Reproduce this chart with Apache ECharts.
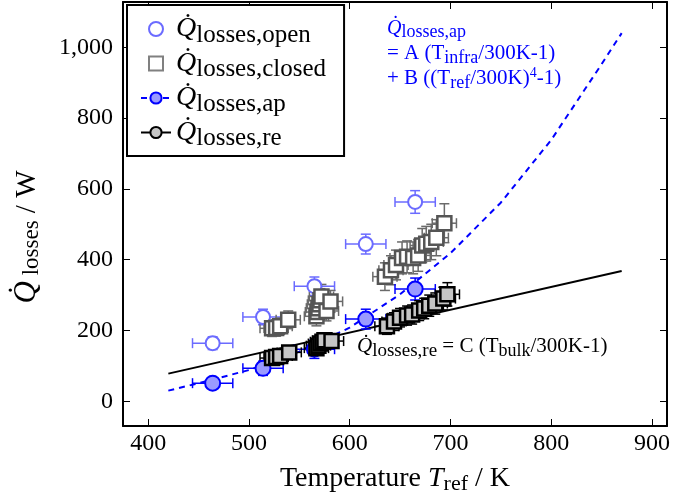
<!DOCTYPE html>
<html><head><meta charset="utf-8">
<script src="https://cdn.jsdelivr.net/npm/echarts@6/dist/echarts.min.js"></script>
<style>html,body{margin:0;padding:0;background:#fff}#c{width:699px;height:495px}</style>
</head><body><div id="c"></div>
<script>
// ---- data ----
const xTicks = [400, 500, 600, 700, 800, 900];
const yTicks = [0, 200, 400, 600, 800, 1000];

const openT    = [464, 514, 565, 616, 665];
const openQ    = [164, 238, 325, 444, 563];
const openTerr = [20, 20, 20, 20, 20];
const openQerr = [18, 22, 26, 28, 32];

const apT    = [464, 514, 565, 616, 665];
const apQ    = [51, 93, 147, 232, 317];
const apTerr = [20, 20, 20, 20, 20];
const apQerr = [14, 20, 26, 28, 31];

const closedT    = [523, 527, 531, 539, 567, 568, 569, 570, 571, 572, 577, 581, 635, 641, 646, 652, 657, 663, 668, 672, 676, 681, 686, 694];
const closedQ    = [206, 207, 212, 230, 240, 252, 263, 274, 285, 296, 255, 282, 352, 370, 385, 405, 408, 405, 412, 440, 445, 450, 462, 503];
const closedTerr = [12, 12, 12, 12, 12, 12, 12, 12, 12, 12, 12, 12, 12, 12, 12, 12, 12, 12, 12, 12, 12, 12, 12, 12];
const closedQerr = [23, 23, 23, 25, 27, 28, 30, 31, 33, 34, 28, 31, 39, 41, 42, 45, 45, 45, 45, 48, 49, 50, 51, 55];

const reT    = [523, 527, 531, 540, 567, 569, 571, 573, 575, 582, 637, 644, 650, 657, 662, 669, 674, 679, 685, 693, 697];
const reQ    = [122, 125, 128, 138, 150, 157, 163, 168, 172, 170, 212, 225, 236, 242, 245, 256, 262, 270, 276, 290, 302];
const reTerr = [12, 12, 12, 12, 12, 12, 12, 12, 12, 12, 12, 12, 12, 12, 12, 12, 12, 12, 12, 12, 12];
const reQerr = [13, 14, 14, 15, 17, 17, 18, 18, 19, 19, 23, 25, 26, 27, 27, 28, 29, 30, 30, 32, 33];

const apCurveT = [420, 450, 500, 550, 600, 650, 700, 750, 800, 850, 870];
const apCurveQ = [30, 51, 88, 140, 208, 302, 418, 561, 738, 952, 1040];

const reLineT = [420, 870];
const reLineQ = [78, 368];

// ---- styles ----
const FONT = '"Liberation Serif", "DejaVu Serif", serif';
const openColor = '#6b6bff';
const apColor = '#0000ff', apFill = '#9a9aff';
const closedColor = '#555555', closedBar = '#6a6a6a';
const reFill = '#c6c6c6';

const zip = (a, b) => a.map((v, i) => [v, b[i]]);
const zip4 = (a, b, c, d) => a.map((v, i) => [v, b[i], c[i], d[i]]);

function errBars(color, width) {
  return function (params, api) {
    const x = api.value(0), y = api.value(1), ex = api.value(2), ey = api.value(3);
    const l = api.coord([x - ex, y]), r = api.coord([x + ex, y]);
    const t = api.coord([x, y + ey]), b = api.coord([x, y - ey]);
    const cap = 5;
    const st = { stroke: color, lineWidth: width };
    const ln = (x1, y1, x2, y2) => ({ type: 'line', shape: { x1, y1, x2, y2 }, style: st });
    return {
      type: 'group',
      children: [
        ln(l[0], l[1], r[0], r[1]),
        ln(l[0], l[1] - cap, l[0], l[1] + cap),
        ln(r[0], r[1] - cap, r[0], r[1] + cap),
        ln(t[0], t[1], b[0], b[1]),
        ln(t[0] - cap, t[1], t[0] + cap, t[1]),
        ln(b[0] - cap, b[1], b[0] + cap, b[1])
      ]
    };
  };
}

const legendRich = {
  q: { fontFamily: FONT, fontStyle: 'italic', fontSize: 28, color: '#000' },
  s: { fontFamily: FONT, fontSize: 25, color: '#000', padding: [12, 0, 0, 0] }
};

const chart = echarts.init(document.getElementById('c'), null, { renderer: 'canvas' });
chart.setOption({
  animation: false,
  backgroundColor: '#fff',
  grid: { left: 123, right: 32, top: 2, bottom: 69, containLabel: false, outerBoundsMode: 'none' },
  xAxis: [{
    type: 'value', min: 375, max: 915, position: 'bottom',
    axisLine: { show: true, onZero: false, lineStyle: { color: '#000', width: 2 } },
    axisTick: { show: true, inside: true, length: 7, customValues: xTicks, lineStyle: { color: '#000', width: 1 } },
    axisLabel: { customValues: xTicks, fontFamily: FONT, fontSize: 24, color: '#000', margin: 6 },
    splitLine: { show: false },
    name: '{n|Temperature }{i|T}{s|ref}{n| / K}', nameLocation: 'middle', nameGap: 36,
    nameTextStyle: {
      rich: {
        n: { fontFamily: FONT, fontSize: 28, color: '#000' },
        i: { fontFamily: FONT, fontSize: 28, fontStyle: 'italic', color: '#000' },
        s: { fontFamily: FONT, fontSize: 22, color: '#000', padding: [11, 0, 0, 0] }
      }
    }
  }, {
    type: 'value', min: 375, max: 915, position: 'top',
    axisLine: { show: true, onZero: false, lineStyle: { color: '#000', width: 2 } },
    axisTick: { show: true, inside: true, length: 7, customValues: xTicks, lineStyle: { color: '#000', width: 1 } },
    axisLabel: { show: false, customValues: xTicks },
    splitLine: { show: false }
  }],
  yAxis: [{
    type: 'value', min: -70, max: 1128, position: 'left',
    axisLine: { show: true, onZero: false, lineStyle: { color: '#000', width: 2 } },
    axisTick: { show: true, inside: true, length: 7, customValues: yTicks, lineStyle: { color: '#000', width: 1 } },
    axisLabel: { customValues: yTicks, fontFamily: FONT, fontSize: 24, color: '#000', margin: 10,
      formatter: v => Number(v).toLocaleString('en-US') },
    splitLine: { show: false },
    name: '{q|Q̇}{s| losses}{n| / W}', nameLocation: 'middle', nameGap: 80,
    nameTextStyle: {
      padding: [0, 46, 0, 0],
      rich: {
        q: { fontFamily: FONT, fontSize: 31, fontStyle: 'italic', color: '#000' },
        s: { fontFamily: FONT, fontSize: 23, color: '#000', padding: [9, 0, 0, 0] },
        n: { fontFamily: FONT, fontSize: 29, color: '#000' }
      }
    }
  }, {
    type: 'value', min: -70, max: 1128, position: 'right',
    axisLine: { show: true, onZero: false, lineStyle: { color: '#000', width: 2 } },
    axisTick: { show: true, inside: true, length: 7, customValues: yTicks, lineStyle: { color: '#000', width: 1 } },
    axisLabel: { show: false, customValues: yTicks },
    splitLine: { show: false }
  }],
  legend: {
    left: 127, top: 5, orient: 'vertical',
    backgroundColor: '#fff', borderColor: '#000', borderWidth: 2, borderRadius: 0,
    padding: [10, 18, 5, 13], itemGap: 2, itemWidth: 30, itemHeight: 14,
    symbolKeepAspect: true,
    selectedMode: false,
    formatter: name => '{q|Q̇}{s|losses,' + name + '}',
    textStyle: { rich: legendRich },
    data: [
      { name: 'open', icon: 'circle', itemStyle: { color: '#fff', borderColor: openColor, borderWidth: 2 } },
      { name: 'closed', icon: 'path://M0,0L10,0L10,10L0,10Z', itemStyle: { color: '#fff', borderColor: '#808080', borderWidth: 2 } },
      { name: 'ap', itemStyle: { color: apFill, borderColor: apColor, borderWidth: 2 }, lineStyle: { color: apColor, width: 2, type: [6, 5] } },
      { name: 're', itemStyle: { color: reFill, borderColor: '#000', borderWidth: 2 }, lineStyle: { color: '#000', width: 2 } }
    ]
  },
  graphic: [
    { type: 'text', left: 387, top: 16, z: 100,
      style: {
        text: '{q|Q̇}{s|losses,ap}\n{n|= A (T}{b|infra}{n|/300K-1)}\n{n|+ B ((T}{b|ref}{n|/300K)}{p|4}{n|-1)}',
        fill: apColor, lineHeight: 25,
        rich: {
          q: { fontFamily: FONT, fontStyle: 'italic', fontSize: 20, fill: apColor },
          s: { fontFamily: FONT, fontSize: 18, fill: apColor, padding: [8, 0, 0, 0] },
          n: { fontFamily: FONT, fontSize: 21, fill: apColor },
          b: { fontFamily: FONT, fontSize: 18, fill: apColor, padding: [9, 0, 0, 0] },
          p: { fontFamily: FONT, fontSize: 14, fill: apColor, padding: [0, 0, 10, 0] }
        }
      } },
    { type: 'text', left: 357, top: 336, z: 100,
      style: {
        text: '{q|Q̇}{s|losses,re}{n| = C (T}{b|bulk}{n|/300K-1)}',
        fill: '#000',
        rich: {
          q: { fontFamily: FONT, fontStyle: 'italic', fontSize: 21, fill: '#000' },
          s: { fontFamily: FONT, fontSize: 19, fill: '#000', padding: [9, 0, 0, 0] },
          n: { fontFamily: FONT, fontSize: 21, fill: '#000' },
          b: { fontFamily: FONT, fontSize: 18, fill: '#000', padding: [10, 0, 0, 0] }
        }
      } }
  ],
  series: [
    { name: 'ap', type: 'line', data: zip(apCurveT, apCurveQ), symbol: 'circle', showSymbol: false, z: 2,
      lineStyle: { color: apColor, width: 2, type: [6, 5] }, itemStyle: { color: apFill, borderColor: apColor, borderWidth: 2 }, silent: true },
    { name: 're', type: 'line', data: zip(reLineT, reLineQ), symbol: 'circle', showSymbol: false, z: 2,
      lineStyle: { color: '#000', width: 2 }, itemStyle: { color: reFill, borderColor: '#000', borderWidth: 2 }, silent: true },

    { type: 'custom', data: zip4(openT, openQ, openTerr, openQerr), renderItem: errBars(openColor, 1.5), z: 3, silent: true },
    { type: 'custom', data: zip4(closedT, closedQ, closedTerr, closedQerr), renderItem: errBars(closedBar, 1.5), z: 3, silent: true },
    { type: 'custom', data: zip4(apT, apQ, apTerr, apQerr), renderItem: errBars(apColor, 1.5), z: 3, silent: true },
    { type: 'custom', data: zip4(reT, reQ, reTerr, reQerr), renderItem: errBars('#000', 1.5), z: 3, silent: true },

    { name: 'open', type: 'scatter', data: zip(openT, openQ), symbol: 'circle', symbolSize: 14, z: 4,
      itemStyle: { color: '#fff', borderColor: openColor, borderWidth: 2, opacity: 1 } },
    { name: 'closed', type: 'scatter', data: zip(closedT, closedQ), symbol: 'rect', symbolSize: 14, z: 4,
      itemStyle: { color: '#fff', borderColor: closedColor, borderWidth: 2.5, opacity: 1 } },
    { name: 'ap', type: 'scatter', data: zip(apT, apQ), symbol: 'circle', symbolSize: 15, z: 5,
      itemStyle: { color: apFill, borderColor: apColor, borderWidth: 2, opacity: 1 } },
    { name: 're', type: 'scatter', data: zip(reT, reQ), symbol: 'rect', symbolSize: 14, z: 5,
      itemStyle: { color: reFill, borderColor: '#000', borderWidth: 2.5, opacity: 1 } }
  ]
});
</script></body></html>
